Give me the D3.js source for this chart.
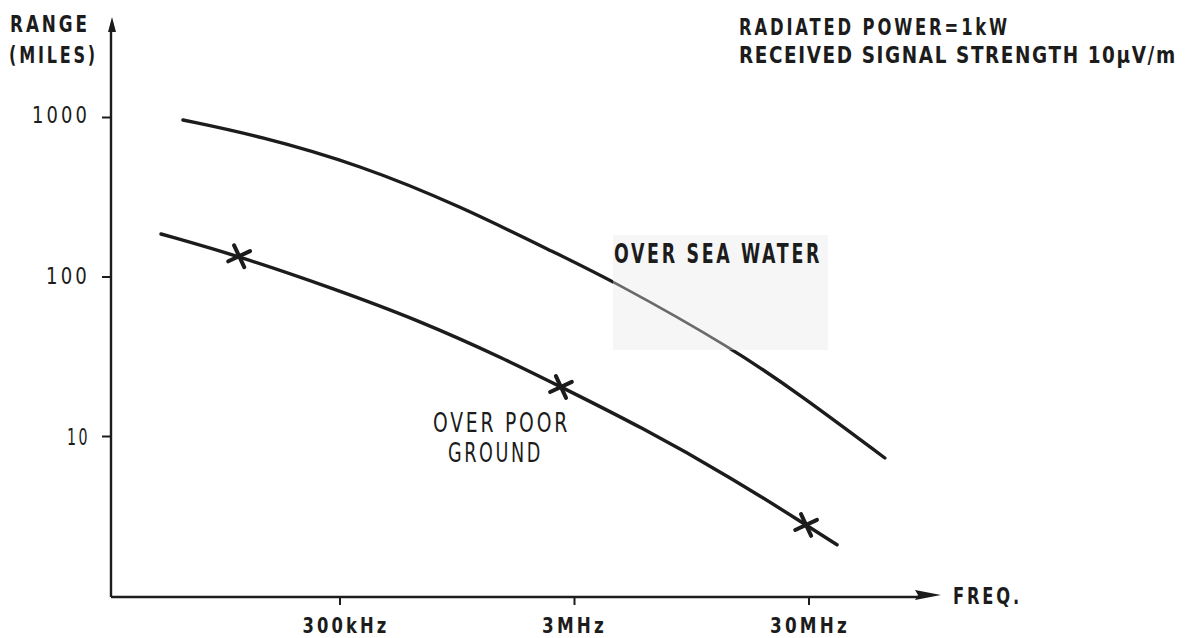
<!DOCTYPE html>
<html><head><meta charset="utf-8">
<script src="https://cdn.jsdelivr.net/npm/d3@7"></script>
<style>
body{margin:0;background:#fff}
svg{display:block}
text{font-family:"DejaVu Sans",sans-serif;font-weight:bold;fill:#1c1c1c;letter-spacing:4px}
</style>
</head><body>
<svg id="c" width="1191" height="638"></svg>
<script>
// ---- data (frequency in MHz, range in miles) ----
const freqTicks = [0.3, 3, 30];
const freqTickLabels = ["300kHz", "3MHz", "30MHz"];
const rangeTicks = [10, 100, 1000];
const rangeTickLabels = ["10", "100", "1000"];

const seaFreq  = [0.0645, 0.137, 0.367, 0.979, 2.61, 4.40, 14.2, 28.1, 63.5];
const seaRange = [958, 760, 500, 277, 136, 93.7, 35.6, 17.8, 7.28];

const groundFreq  = [0.052, 0.112, 0.271, 0.649, 1.55, 2.64, 5.79, 13.9, 29.3, 39.7];
const groundRange = [184.7, 134, 85.9, 53.4, 30.0, 20.3, 11.4, 5.53, 2.77, 2.08];

const markFreq  = [0.112, 2.64, 29.3];
const markRange = [134, 20.3, 2.77];

// ---- layout ----
const svg = d3.select("#c");
const ox = 111, oy = 597;
const x = d3.scaleLog().domain([0.3, 30]).range([339.5, 808.5]);
const y = d3.scaleLog().domain([10, 1000]).range([436, 117]);
const ink = "#1c1c1c";

// label background patch (scan artefact) behind "OVER SEA WATER"
const seaBox = {x: 613, y: 235, w: 215, h: 115};
svg.append("rect").attr("x", seaBox.x).attr("y", seaBox.y)
  .attr("width", seaBox.w).attr("height", seaBox.h).attr("fill", "#f6f6f6");
svg.append("clipPath").attr("id", "seaclip").append("rect")
  .attr("x", seaBox.x).attr("y", seaBox.y).attr("width", seaBox.w).attr("height", seaBox.h);
svg.append("clipPath").attr("id", "seaout").append("path")
  .attr("clip-rule", "evenodd")
  .attr("d", `M0,0H1191V638H0Z M${seaBox.x},${seaBox.y}h${seaBox.w}v${seaBox.h}h${-seaBox.w}Z`);

// ---- axes lines with arrows ----
svg.append("path").attr("d", `M${ox},${oy}V28`).attr("stroke", ink).attr("stroke-width", 2.4).attr("fill", "none");
svg.append("path").attr("d", `M${ox},${oy}H920`).attr("stroke", ink).attr("stroke-width", 2.4).attr("fill", "none");
svg.append("path").attr("d", `M${ox+1},17 L${ox+5},32 L${ox-3},32 Z`).attr("fill", ink);
svg.append("path").attr("d", `M941,595 L915,590 L918,595 L915,600 Z`).attr("fill", ink);

// ---- y axis ticks ----
const yLens = [23, 44, 58];
const yDy = [8, 7, 5];
const ya = svg.append("g").attr("transform", `translate(${ox},0)`)
  .call(d3.axisLeft(y).tickValues(rangeTicks)
    .tickFormat((d, i) => rangeTickLabels[i]).tickSize(9).tickPadding(12));
ya.select(".domain").remove();
ya.selectAll("line").attr("stroke", ink).attr("stroke-width", 2);
ya.selectAll("text").attr("dy", null).attr("font-size", 23)
  .attr("y", (d, i) => yDy[i])
  .attr("textLength", (d, i) => yLens[i]).attr("lengthAdjust", "spacingAndGlyphs")
  .style("font-family", "DejaVu Sans").style("font-weight", "normal").attr("fill", ink);

// ---- x axis ticks ----
const xLens = [87, 65, 80];
const xa = svg.append("g").attr("transform", `translate(0,${oy})`)
  .call(d3.axisBottom(x).tickValues(freqTicks)
    .tickFormat((d, i) => freqTickLabels[i]).tickSize(8));
xa.select(".domain").remove();
xa.selectAll("line").attr("stroke", ink).attr("stroke-width", 2);
xa.selectAll("text").attr("dy", null).attr("y", 36).attr("font-size", 21)
  .attr("dx", (d, i) => [6, 0, 1][i])
  .attr("textLength", (d, i) => xLens[i]).attr("lengthAdjust", "spacingAndGlyphs")
  .style("font-family", "DejaVu Sans").style("font-weight", "bold").attr("fill", ink);

// ---- curves ----
const line = d3.line().x(d => x(d[0])).y(d => y(d[1])).curve(d3.curveBasis);
const sea = seaFreq.map((f, i) => [f, seaRange[i]]);
const ground = groundFreq.map((f, i) => [f, groundRange[i]]);

svg.append("path").attr("d", line(sea)).attr("fill", "none").attr("stroke", ink)
  .attr("stroke-width", 3.4).attr("stroke-linecap", "round").attr("clip-path", "url(#seaout)");
svg.append("path").attr("d", line(sea)).attr("fill", "none").attr("stroke", "#6a6a6a")
  .attr("stroke-width", 2.8).attr("clip-path", "url(#seaclip)");
svg.append("path").attr("d", line(ground)).attr("fill", "none").attr("stroke", ink)
  .attr("stroke-width", 3.4).attr("stroke-linecap", "round");

// ---- cross markers ----
const marks = markFreq.map((f, i) => [f, markRange[i]]);
const mg = svg.append("g").selectAll("g").data(marks).join("g")
  .attr("transform", d => `translate(${x(d[0])},${y(d[1])})`);
[-25, 65].forEach(a => {
  const r = a * Math.PI / 180, L = 12;
  mg.append("line").attr("x1", -L * Math.cos(r)).attr("y1", -L * Math.sin(r))
    .attr("x2", L * Math.cos(r)).attr("y2", L * Math.sin(r))
    .attr("stroke", ink).attr("stroke-width", 4).attr("stroke-linecap", "round");
});

// ---- text ----
function label(t, x0, base, len, size, color, weight) {
  svg.append("text").attr("x", x0).attr("y", base).attr("font-size", size)
    .attr("textLength", len).attr("lengthAdjust", "spacingAndGlyphs")
    .style("font-weight", weight || "bold").attr("fill", color || ink).text(t);
}
// horizontally scaled label (keeps natural box inside the canvas)
function scaledLabel(t, x0, base, len, size, color) {
  const el = svg.append("text").attr("font-size", size).style("letter-spacing", "2px")
    .attr("fill", color || ink).text(t);
  const nat = el.node().getComputedTextLength();
  el.attr("transform", `translate(${x0},${base}) scale(${len / nat},1)`);
}
label("RANGE", 10, 32, 80, 23);
label("(MILES)", 9, 63, 89, 23);
label("RADIATED POWER=1kW", 739, 35, 271, 23, "#2a2a2a");
scaledLabel("RECEIVED SIGNAL STRENGTH 10\u00b5V/m", 739, 63, 438, 23, "#2a2a2a");
label("FREQ.", 953, 604, 69, 23);
label("OVER SEA WATER", 614, 263, 208, 26, "#484848");
label("OVER POOR", 433, 432, 137, 27, ink, "normal");
label("GROUND", 448, 462, 95, 27, ink, "normal");
</script>
</body></html>
